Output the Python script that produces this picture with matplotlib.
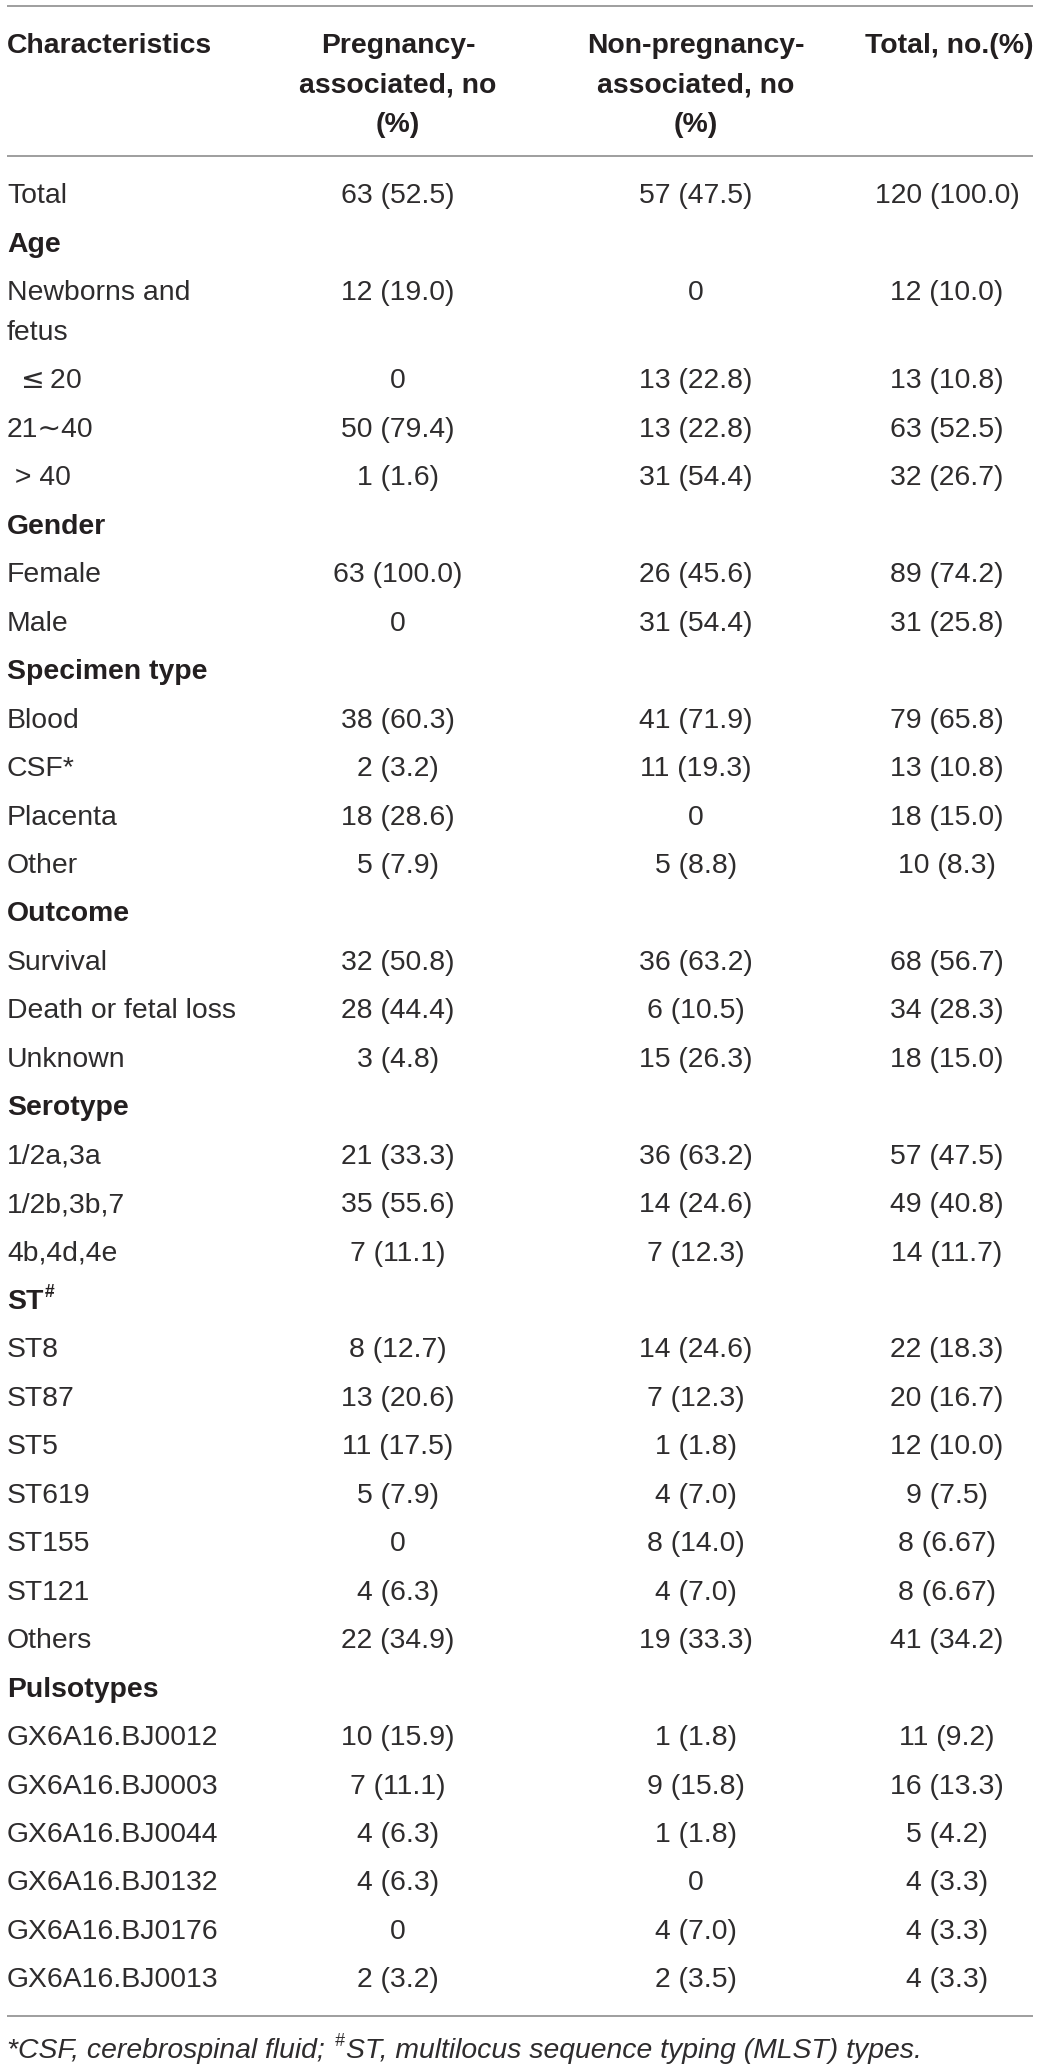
import matplotlib
matplotlib.use("Agg")
import matplotlib.pyplot as plt

# ---------------- data ----------------
col_headers = [["Characteristics"],
               ["Pregnancy-", "associated, no", "(%)"],
               ["Non-pregnancy-", "associated, no", "(%)"],
               ["Total, no.(%)"]]

characteristics = ["Total", "Age", "Newborns and\nfetus", r" $\leq$20", "21\u223c40", " > 40",
                   "Gender", "Female", "Male",
                   "Specimen type", "Blood", "CSF*", "Placenta", "Other",
                   "Outcome", "Survival", "Death or fetal loss", "Unknown",
                   "Serotype", "1/2a,3a", "1/2b,3b,7", "4b,4d,4e",
                   "ST", "ST8", "ST87", "ST5", "ST619", "ST155", "ST121", "Others",
                   "Pulsotypes", "GX6A16.BJ0012", "GX6A16.BJ0003", "GX6A16.BJ0044",
                   "GX6A16.BJ0132", "GX6A16.BJ0176", "GX6A16.BJ0013"]

is_section = [False, True, False, False, False, False,
              True, False, False,
              True, False, False, False, False,
              True, False, False, False,
              True, False, False, False,
              True, False, False, False, False, False, False, False,
              True, False, False, False, False, False, False]

pregnancy = ["63 (52.5)", "", "12 (19.0)", "0", "50 (79.4)", "1 (1.6)",
             "", "63 (100.0)", "0",
             "", "38 (60.3)", "2 (3.2)", "18 (28.6)", "5 (7.9)",
             "", "32 (50.8)", "28 (44.4)", "3 (4.8)",
             "", "21 (33.3)", "35 (55.6)", "7 (11.1)",
             "", "8 (12.7)", "13 (20.6)", "11 (17.5)", "5 (7.9)", "0", "4 (6.3)", "22 (34.9)",
             "", "10 (15.9)", "7 (11.1)", "4 (6.3)", "4 (6.3)", "0", "2 (3.2)"]

non_pregnancy = ["57 (47.5)", "", "0", "13 (22.8)", "13 (22.8)", "31 (54.4)",
                 "", "26 (45.6)", "31 (54.4)",
                 "", "41 (71.9)", "11 (19.3)", "0", "5 (8.8)",
                 "", "36 (63.2)", "6 (10.5)", "15 (26.3)",
                 "", "36 (63.2)", "14 (24.6)", "7 (12.3)",
                 "", "14 (24.6)", "7 (12.3)", "1 (1.8)", "4 (7.0)", "8 (14.0)", "4 (7.0)", "19 (33.3)",
                 "", "1 (1.8)", "9 (15.8)", "1 (1.8)", "0", "4 (7.0)", "2 (3.5)"]

total = ["120 (100.0)", "", "12 (10.0)", "13 (10.8)", "63 (52.5)", "32 (26.7)",
         "", "89 (74.2)", "31 (25.8)",
         "", "79 (65.8)", "13 (10.8)", "18 (15.0)", "10 (8.3)",
         "", "68 (56.7)", "34 (28.3)", "18 (15.0)",
         "", "57 (47.5)", "49 (40.8)", "14 (11.7)",
         "", "22 (18.3)", "20 (16.7)", "12 (10.0)", "9 (7.5)", "8 (6.67)", "8 (6.67)", "41 (34.2)",
         "", "11 (9.2)", "16 (13.3)", "5 (4.2)", "4 (3.3)", "4 (3.3)", "4 (3.3)"]

superscripts = {"ST": "#"}
footnote_parts = ["*CSF, cerebrospinal fluid;", "#", "ST, multilocus sequence typing (MLST) types."]

# ---------------- layout ----------------
W, H = 1040, 2069
fig = plt.figure(figsize=(W / 100, H / 100), dpi=100)
ax = fig.add_axes([0, 0, 1, 1])
ax.set_xlim(0, W)
ax.set_ylim(H, 0)
ax.axis("off")

FAM = ["Liberation Sans", "DejaVu Sans"]
FS = 20.4
TXT_BOLD = "#231f20"
TXT = "#2e2c2d"
LINE = "#9e9e9e"
CAP = 10.1  # half cap height in px

x_left = 7
col_x = [398, 696, 947]
x_line0, x_line1 = 7, 1033

renderer = fig.canvas.get_renderer()


def put(x, yc, s, ha="left", weight="normal", style="normal", size=FS):
    col = TXT_BOLD if weight == "bold" else TXT
    return ax.text(x, yc + CAP * size / FS, s, ha=ha, va="baseline", family=FAM,
                   fontsize=size, color=col, fontweight=weight, fontstyle=style)


def right_edge(t):
    bb = t.get_window_extent(renderer=renderer)
    return bb.x1


# rules
for y in (6, 156, 2016):
    ax.plot([x_line0, x_line1], [y, y], color=LINE, lw=1.4, solid_capstyle="butt")

# header
hdr_y = [43, 82.5, 122]
hdr_x = [x_left, col_x[0], col_x[1], col_x[2] + 2]
for ci, lines in enumerate(col_headers):
    for li, s in enumerate(lines):
        put(hdr_x[ci], hdr_y[li], s, ha="left" if ci == 0 else "center", weight="bold")

# body rows
pitch = 48.45
y = 193.0
for i, lab in enumerate(characteristics):
    if is_section[i]:
        t = put(x_left, y, lab, weight="bold")
        if lab in superscripts:
            x1 = right_edge(t)
            ax.text(x1 + 1.5, y - 2, superscripts[lab], ha="left", va="baseline",
                    family=FAM, fontsize=FS * 0.62, color=TXT_BOLD, fontweight="bold")
    else:
        lines = lab.split("\n")
        for k, s in enumerate(lines):
            put(x_left, y + k * 39.5, s)
        for cx, vals in zip(col_x, (pregnancy, non_pregnancy, total)):
            if vals[i]:
                put(cx, y, vals[i], ha="center")
    extra = 40 if "\n" in lab else 0
    y += pitch + extra

# footnote
fy = 2048
t1 = put(x_left, fy, footnote_parts[0], style="italic")
x1 = right_edge(t1)
t2 = ax.text(x1 + 10, fy - 2, footnote_parts[1], ha="left", va="baseline", family=FAM,
             fontsize=FS * 0.62, color=TXT, fontstyle="italic")
x2 = right_edge(t2)
put(x2 + 1.5, fy, footnote_parts[2], style="italic")

fig.savefig("out.png", dpi=100)
